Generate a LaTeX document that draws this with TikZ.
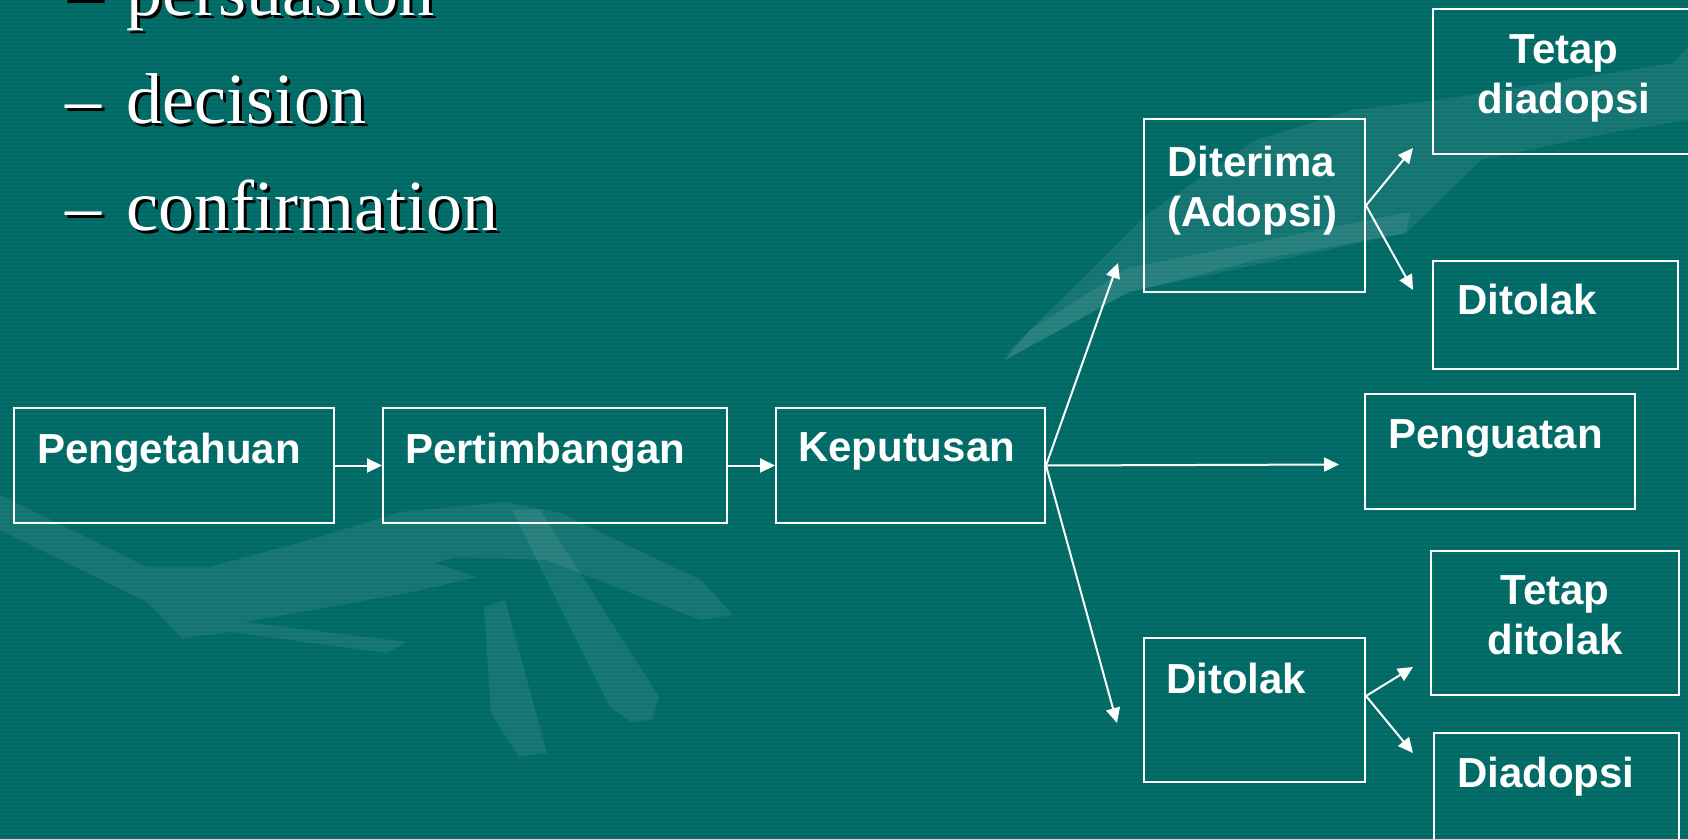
\documentclass[tikz,border=0pt]{standalone}
\usepackage{fontspec}
\setmainfont{Liberation Serif}
\newfontfamily\boxfont{Liberation Sans}
\usetikzlibrary{arrows.meta,positioning}
\definecolor{slide}{RGB}{0,104,100}
\definecolor{stripe}{RGB}{6,111,106}
\tikzset{
every picture/.style={
line width=2pt
},
box/.style={draw=white, rectangle, inner sep=0pt, anchor=north west},
lbl/.style={text=white, inner sep=0pt, font=\boxfont\bfseries\fontsize{42}{50}\selectfont},
flow/.style={draw=white, -{Triangle[length=15pt,width=14pt]}},
item/.style={inner sep=0pt, anchor=base west, font=\fontsize{72}{86}\selectfont},
wmark/.style={fill=white, fill opacity=0.08, draw=none}
}

\begin{document}
\begin{tikzpicture}[x=1pt, y=-1pt]
\useasboundingbox (0,0) rectangle (1688,838);
\fill[slide] (0,0) rectangle (1688,838);
\foreach \s in {2,6,...,838}{
  \draw[stripe, line width=1.5pt] (0,\s) -- (1688,\s);
}

% background picture of the template
\fill[wmark] (0,495) -- (147,567) -- (210,567) -- (316,538) -- (400,512) -- (505,502) -- (561,513) -- (631,547) -- (701,580) -- (733,615) -- (701,620) -- (631,593) -- (547,560) -- (456,557) -- (435,563) -- (477,577) -- (407,593) -- (245,622) -- (407,642) -- (386,653) -- (231,632) -- (182,638) -- (147,602) -- (0,530) -- cycle;
\fill[wmark] (512,510) -- (540,510) -- (659,697) -- (652,720) -- (631,722) -- (610,707) -- cycle;
\fill[wmark] (484,607) -- (505,600) -- (547,753) -- (519,757) -- (491,713) -- cycle;
\fill[wmark] (1005,360) -- (1128,293) -- (1256,260) -- (1406,233) -- (1481,160) -- (1609,133) -- (1688,120) -- (1688,47) -- (1673,63) -- (1438,100) -- (1352,110) -- (1256,140) -- (1149,213) -- (1010,350) -- cycle;
\fill[wmark] (1005,360) -- (1128,292) -- (1406,233) -- (1410,212) -- (1128,268) -- (1030,330) -- cycle;

% bullet lines, with shadow
\foreach \w [count=\i] in {persuasion, decision, confirmation}{
  \node[item, text=black] (sh\i) at (67,{18.5+107.5*(\i-1)}) {–\hspace{26pt}\w};
  \node[item, text=white] (it\i) at (64,{15.5+107.5*(\i-1)}) {–\hspace{26pt}\w};
}

% boxes: name/left/top/width/height
\foreach \n/\x/\y/\w/\h in {pen/13/407/320/115, per/382/407/344/115, kep/775/407/269/115, ter/1143/118/221/173, tda/1432/8/262/145, tol/1432/260/245/108, pgu/1364/393/270/115, dtl/1143/637/221/144, ttl/1430/550/248/144, dad/1433/732/245/130}{
  \node[box, minimum width=\w, minimum height=\h] (\n) at (\x,\y) {};
}

\node[lbl, below right=25pt and 23pt of pen.north west] (pen-l) {Pengetahuan};
\node[lbl, below right=25pt and 22pt of per.north west] (per-l) {Pertimbangan};
\node[lbl, below right=25pt and 22pt of kep.north west] (kep-l) {Keputusan};
\node[lbl, below right=27pt and 23pt of ter.north west, align=left] (ter-l) {Diterima\\(Adopsi)};
\node[lbl, below=26pt of tda.north, align=center] (tda-l) {Tetap\\diadopsi};
\node[lbl, below right=23pt and 24pt of tol.north west] (tol-l) {Ditolak};
\node[lbl, below right=26pt and 23pt of pgu.north west] (pgu-l) {Penguatan};
\node[lbl, below right=25pt and 22pt of dtl.north west] (dtl-l) {Ditolak};
\node[lbl, below=25pt of ttl.north, align=center] (ttl-l) {Tetap\\ditolak};
\node[lbl, below right=24pt and 23pt of dad.north west] (dad-l) {Diadopsi};

% free ends of the fan arrows
\coordinate (k1) at (1118,263);
\coordinate (k2) at (1339,464.5);
\coordinate (k3) at (1117,723);
\coordinate (d1) at (1413,148);
\coordinate (d2) at (1413,290);
\coordinate (t0) at ([yshift=14pt]dtl.east);
\coordinate (t1) at (1413,667);
\coordinate (t2) at (1413,753);

\draw[flow] (pen) -- (per);
\draw[flow] (per) -- (kep);
\foreach \e in {k1,k2,k3}{
  \draw[flow] (kep.east) -- (\e);
}
\draw[flow] (ter.east) -- (d1);
\draw[flow] (ter.east) -- (d2);
\draw[flow] (t0) -- (t1);
\draw[flow] (t0) -- (t2);
\end{tikzpicture}
\end{document}
